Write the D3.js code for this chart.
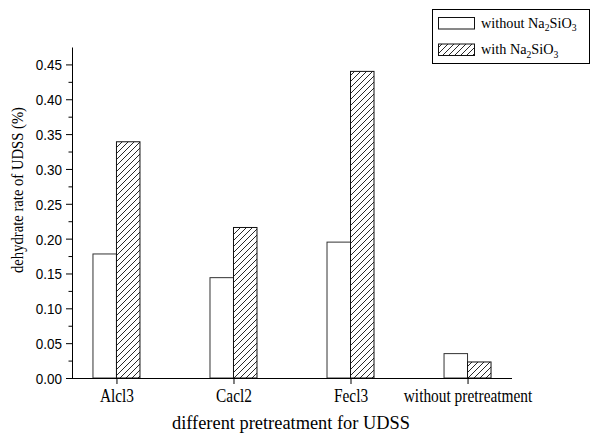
<!DOCTYPE html>
<html>
<head>
<meta charset="utf-8">
<script src="https://cdn.jsdelivr.net/npm/d3@7"></script>
<style>
  html, body { margin: 0; padding: 0; background: #fff; }
  svg { display: block; }
</style>
</head>
<body>
<svg id="chart" width="591" height="439"></svg>
<script>
// Pretreatment groups along the x axis
const categories = ["Alcl3", "Cacl2", "Fecl3", "without pretreatment"];
// Dehydrate rate (%) for each group
const withoutNa2SiO3 = [0.178, 0.144, 0.195, 0.035];
const withNa2SiO3 = [0.339, 0.216, 0.440, 0.023];
// Y axis labelled ticks
const yTicks = [0.00, 0.05, 0.10, 0.15, 0.20, 0.25, 0.30, 0.35, 0.40, 0.45];
const yMinorTicks = [0.025, 0.075, 0.125, 0.175, 0.225, 0.275, 0.325, 0.375, 0.425];

const svg = d3.select("#chart");
const serif = "Liberation Serif";
const sans = "Liberation Sans";

const x0 = 72, x1 = 512, yBottom = 378, yTop = 47;

const x = d3.scalePoint().domain(categories).range([x0, x1]).padding(0.38);
const y = d3.scaleLinear().domain([0, 0.475]).range([yBottom, yTop]);
const bw = 23.5;

// Diagonal hatch for the Na2SiO3 series
const defs = svg.append("defs");
const pat = defs.append("pattern")
  .attr("id", "hatch")
  .attr("patternUnits", "userSpaceOnUse")
  .attr("width", 6).attr("height", 6);
pat.append("rect").attr("width", 6).attr("height", 6).attr("fill", "#fff");
pat.append("path")
  .attr("d", "M-1,1 L1,-1 M0,6 L6,0 M5,7 L7,5")
  .attr("stroke", "#111").attr("stroke-width", 0.9);

const plot = svg.append("g");

// Open bars (left of each category tick)
plot.selectAll("rect.open").data(categories).join("rect")
  .attr("class", "open")
  .attr("x", d => x(d) - bw)
  .attr("y", (d, i) => y(withoutNa2SiO3[i]))
  .attr("width", bw)
  .attr("height", (d, i) => y(0) - y(withoutNa2SiO3[i]))
  .attr("fill", "#fff")
  .attr("stroke", "#333").attr("stroke-width", 1);

// Hatched bars (right of each category tick)
plot.selectAll("rect.hatched").data(categories).join("rect")
  .attr("class", "hatched")
  .attr("x", d => x(d))
  .attr("y", (d, i) => y(withNa2SiO3[i]))
  .attr("width", bw)
  .attr("height", (d, i) => y(0) - y(withNa2SiO3[i]))
  .attr("fill", "url(#hatch)")
  .attr("stroke", "#111").attr("stroke-width", 1);

// Y axis
const ySx = 0.9;
const yAxis = svg.append("g").attr("transform", `translate(${x0},0)`)
  .call(d3.axisLeft(y).tickValues(yTicks).tickFormat(d3.format(".2f")).tickSize(6).tickSizeOuter(0));
yAxis.select(".domain").attr("stroke", "#000");
yAxis.selectAll(".tick line").attr("stroke", "#000");
yAxis.selectAll(".tick text")
  .attr("font-family", sans).attr("font-size", 15).attr("fill", "#000")
  .attr("x", -10 / ySx).attr("dy", "0.36em")
  .attr("transform", `scale(${ySx},1)`);

const yMinor = svg.append("g").attr("transform", `translate(${x0},0)`)
  .call(d3.axisLeft(y).tickValues(yMinorTicks).tickFormat("").tickSize(3.5).tickSizeOuter(0));
yMinor.select(".domain").remove();
yMinor.selectAll(".tick line").attr("stroke", "#000");

// X axis
const xSx = 0.855;
const xAxis = svg.append("g").attr("transform", `translate(0,${yBottom})`)
  .call(d3.axisBottom(x).tickSize(6).tickSizeOuter(0));
xAxis.select(".domain").attr("stroke", "#000").attr("d", `M${x0},0.5H${x1}`);
xAxis.selectAll(".tick line").attr("stroke", "#000");
xAxis.selectAll(".tick text")
  .attr("font-family", serif).attr("font-size", 18).attr("fill", "#000")
  .attr("y", 24.5).attr("dy", 0)
  .attr("transform", `scale(${xSx},1)`);

// Axis titles
svg.append("text")
  .attr("x", 291).attr("y", 429)
  .attr("text-anchor", "middle")
  .attr("font-family", serif).attr("font-size", 19.5)
  .attr("textLength", 238).attr("lengthAdjust", "spacingAndGlyphs")
  .text("different pretreatment for UDSS");

svg.append("text")
  .attr("transform", "translate(23,190) rotate(-90)")
  .attr("text-anchor", "middle")
  .attr("font-family", serif).attr("font-size", 17)
  .attr("textLength", 166).attr("lengthAdjust", "spacingAndGlyphs")
  .text("dehydrate rate of UDSS (%)");

// Legend
const lg = svg.append("g");
lg.append("rect").attr("x", 432.5).attr("y", 9.5).attr("width", 157).attr("height", 54)
  .attr("fill", "#fff").attr("stroke", "#000").attr("stroke-width", 1);

const legendItems = [
  { label: "without Na", fill: "#fff", y: 17.5 },
  { label: "with Na", fill: "url(#hatch)", y: 44 }
];
legendItems.forEach(it => {
  lg.append("rect").attr("x", 438.5).attr("y", it.y).attr("width", 36).attr("height", 11.5)
    .attr("fill", it.fill).attr("stroke", "#111").attr("stroke-width", 1);
  const t = lg.append("text")
    .attr("x", 481).attr("y", it.y + 10.5)
    .attr("font-family", serif).attr("font-size", 15.5)
    .attr("transform", `translate(${481 * (1 - 0.92)},0) scale(0.92,1)`);
  t.append("tspan").text(it.label);
  t.append("tspan").attr("font-size", 10.5).attr("dy", 3.5).text("2");
  t.append("tspan").attr("dy", -3.5).text("SiO");
  t.append("tspan").attr("font-size", 10.5).attr("dy", 3.5).text("3");
});
</script>
</body>
</html>
